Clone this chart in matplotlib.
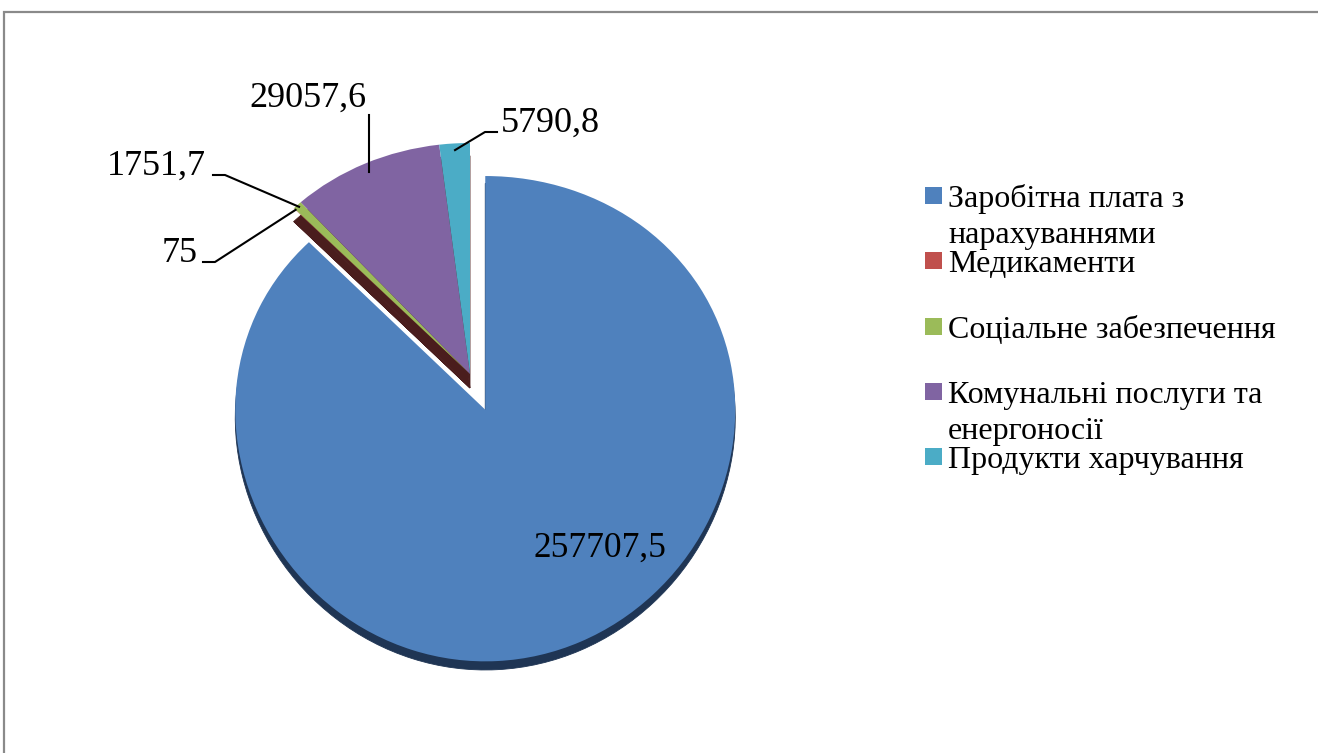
import matplotlib
matplotlib.use('Agg')
import matplotlib.pyplot as plt
from matplotlib.patches import Rectangle
import numpy as np

plt.rcParams['font.family'] = ['Liberation Serif', 'DejaVu Serif']

categories = ['Заробітна плата з\nнарахуваннями', 'Медикаменти', 'Соціальне забезпечення',
              'Комунальні послуги та\nенергоносії', 'Продукти харчування']
values = [257707.5, 75, 1751.7, 29057.6, 5790.8]
value_labels = ['257707,5', '75', '1751,7', '29057,6', '5790,8']
colors = ['#4f81bd', '#c0504d', '#9bbb59', '#8064a2', '#4bacc6']
explode = [0.16, 0, 0, 0, 0]

W, H = 1318, 753
cx, cy = 470, 374      # pie centre in pixels (from top-left)
rx = 250               # pixels per data unit, horizontally
ky, qy = 240, 9        # vertical: p = cy - ky*y + qy*y^2  (slight perspective tilt)


def fwd(y):
    return ky * y - qy * y ** 2


def inv(f):
    return (ky - np.sqrt(np.maximum(ky ** 2 - 4 * qy * f, 0))) / (2 * qy)


def px(x, y):
    return (x - cx) / rx, float(inv(cy - y))


fig = plt.figure(figsize=(W / 100, H / 100), dpi=100)
ax = fig.add_axes([0, 0, 1, 1])

# side walls of the 3D pie: big slice and the group of small ones
side_big = ['#1f3554', 'none', 'none', 'none', 'none']
side_small = ['none', '#4a1d1d', '#4a1d1d', '#4a1d1d', '#4a1d1d']
for sc, off in [(side_big, -0.033), (side_small, -0.058)]:
    side, _ = ax.pie(values, explode=explode, colors=sc, startangle=90,
                     counterclock=False, center=(0, off),
                     wedgeprops={'linewidth': 0.6})
    for w in side:
        w.set_edgecolor(w.get_facecolor())
# top face
wedges, _ = ax.pie(values, explode=explode, colors=colors, startangle=90,
                   counterclock=False, wedgeprops={'linewidth': 0})

ax.set_aspect('auto')
ax.set_yscale('function', functions=(fwd, inv))
ax.set_xlim(px(0, 0)[0], px(W, 0)[0])
ax.set_ylim(px(0, H)[1], px(0, 0)[1])
ax.axis('off')


def anchor(i, r=0.99):
    w = wedges[i]
    t = np.deg2rad((w.theta1 + w.theta2) / 2)
    c = w.center
    return c[0] + r * np.cos(t), c[1] + r * np.sin(t)


fs = 26
# big slice label
ax.text(*px(600, 557), value_labels[0], fontsize=25.5, ha='center', va='baseline')

# 75 (Медикаменти)
a = anchor(1)
p1, p2 = px(203, 262), px(215, 262)
ax.plot([p1[0], p2[0], a[0]], [p1[1], p2[1], a[1]], color='black', lw=1.5)
ax.text(*px(180, 262), value_labels[1], fontsize=fs, ha='center', va='baseline')

# 1751,7
a = anchor(2)
p1, p2 = px(213, 175), px(225, 175)
ax.plot([p1[0], p2[0], a[0]], [p1[1], p2[1], a[1]], color='black', lw=1.5)
ax.text(*px(156, 175), value_labels[2], fontsize=fs, ha='center', va='baseline')

# 29057,6
a = anchor(3, 0.96)
p1 = (a[0], px(0, 115)[1])
ax.plot([p1[0], a[0]], [p1[1], a[1]], color='black', lw=1.5)
ax.text(*px(308, 107), value_labels[3], fontsize=fs, ha='center', va='baseline')

# 5790,8
a = anchor(4, 0.97)
p1, p2 = px(485, 132), px(497, 132)
ax.plot([a[0], p1[0], p2[0]], [a[1], p1[1], p2[1]], color='black', lw=1.5)
ax.text(*px(501, 132), value_labels[4], fontsize=fs, ha='left', va='baseline')

# legend
lfs = 23
for i, (lab, col) in enumerate(zip(categories, colors)):
    yc = 195.5 + i * 65.3
    x0, y0 = px(925, yc + 8.5)
    x1, y1 = px(942, yc - 8.5)
    ax.add_patch(Rectangle((x0, y0), x1 - x0, y1 - y0, facecolor=col,
                           edgecolor='none', clip_on=False))
    for j, line in enumerate(lab.split('\n')):
        ax.text(*px(948, yc + 11.5 + j * 36), line, fontsize=lfs,
                ha='left', va='baseline')

# chart area border
fig.add_artist(Rectangle((4 / W, -0.1), 1.2, (H - 12.5) / H + 0.1,
                         transform=fig.transFigure, fill=False,
                         edgecolor='#8a8a8a', lw=1.6))

fig.savefig('out.png', dpi=100)
